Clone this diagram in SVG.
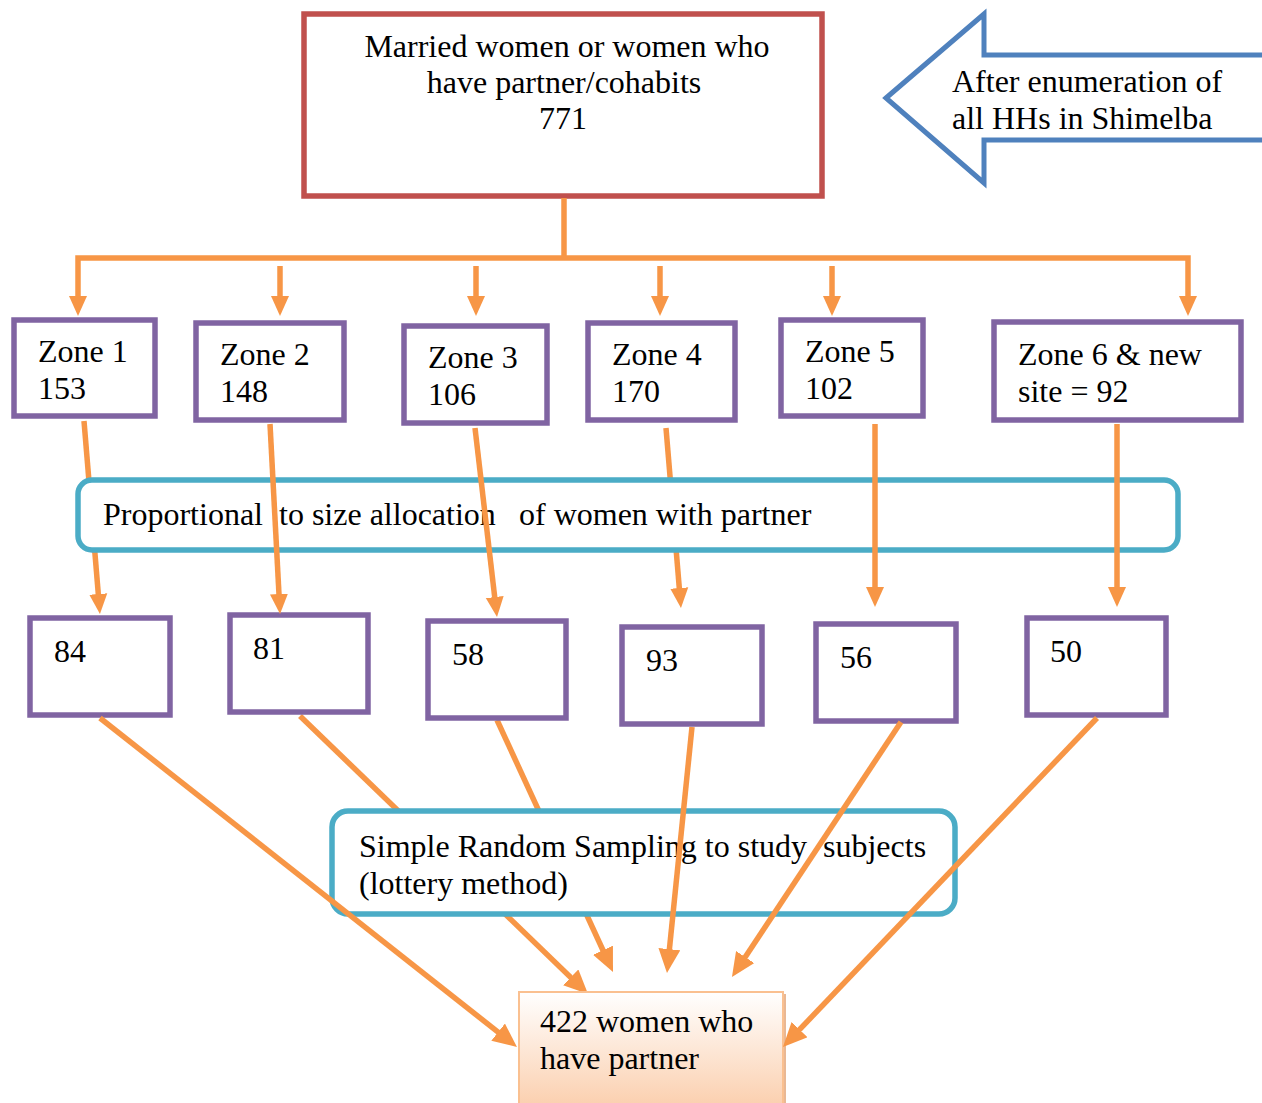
<svg xmlns="http://www.w3.org/2000/svg" width="1262" height="1103" viewBox="0 0 1262 1103">
<style>
text{font-family:"Liberation Serif","Times New Roman",serif;font-size:32px;fill:#000}
.con{fill:none;stroke:#F79646;stroke-width:5.5}
.zone{fill:#fff;stroke:#8064A2;stroke-width:5.5}
.band{fill:#fff;stroke:#4BACC6;stroke-width:5.5}
</style>
<defs>
<marker id="ah" markerUnits="userSpaceOnUse" markerWidth="20" markerHeight="20" viewBox="0 0 20 20" refX="6" refY="10" orient="auto-start-reverse">
<path d="M0,1 L20,10 L0,19 z" fill="#F79646"/>
</marker>
<marker id="ahb" markerUnits="userSpaceOnUse" markerWidth="24" markerHeight="22" viewBox="0 0 24 22" refX="8" refY="11" orient="auto">
<path d="M0,0 L24,11 L0,22 z" fill="#F79646"/>
</marker>
<linearGradient id="peach" x1="0" y1="0" x2="0" y2="1">
<stop offset="0" stop-color="#FFFFFF"/>
<stop offset="1" stop-color="#FBCFAE"/>
</linearGradient>
</defs>
<rect width="1262" height="1103" fill="#fff"/>

<g id="connectors-back">
<path class="con" d="M84,421 L98.8,600" marker-end="url(#ah)"/>
<path class="con" d="M666,428 L679.8,594" marker-end="url(#ah)"/>
<path class="con" d="M300,716 L576.5,982.9" marker-end="url(#ahb)"/>
<path class="con" d="M497,720 L606.3,957.5" marker-end="url(#ahb)"/>
</g>

<g id="n-total">
<rect x="304" y="14" width="518" height="182" fill="#fff" stroke="#C0504D" stroke-width="5.5"/>
<text x="567" y="57" text-anchor="middle">Married women or women who</text>
<text x="564" y="93" text-anchor="middle">have partner/cohabits</text>
<text x="563" y="129" text-anchor="middle">771</text>
</g>

<g id="n-enumeration">
<path d="M886,98 L984,14 L984,55 L1266,55 L1266,140 L984,140 L984,183 Z" fill="#fff" stroke="#4F81BD" stroke-width="5" stroke-linejoin="miter"/>
<text x="952" y="92">After enumeration of</text>
<text x="952" y="129">all HHs in Shimelba</text>
</g>

<g id="n-zone1"><rect class="zone" x="14" y="320" width="141" height="96"/><text x="38" y="362">Zone 1</text><text x="38" y="399">153</text></g>
<g id="n-zone2"><rect class="zone" x="196" y="323" width="148" height="97"/><text x="220" y="365">Zone 2</text><text x="220" y="402">148</text></g>
<g id="n-zone3"><rect class="zone" x="404" y="326" width="143" height="97"/><text x="428" y="368">Zone 3</text><text x="428" y="405">106</text></g>
<g id="n-zone4"><rect class="zone" x="588" y="323" width="147" height="97"/><text x="612" y="365">Zone 4</text><text x="612" y="402">170</text></g>
<g id="n-zone5"><rect class="zone" x="781" y="320" width="142" height="96"/><text x="805" y="362">Zone 5</text><text x="805" y="399">102</text></g>
<g id="n-zone6"><rect class="zone" x="994" y="322" width="247" height="98"/><text x="1018" y="365">Zone 6 &amp; new</text><text x="1018" y="402">site = 92</text></g>

<g id="n-proportional">
<rect class="band" x="78" y="480" width="1100" height="70" rx="14"/>
<text y="525"><tspan x="103">Proportional</tspan><tspan x="279">to size allocation</tspan><tspan x="519">of women with partner</tspan></text>
</g>

<g id="n-s84"><rect class="zone" x="30" y="618" width="140" height="97"/><text x="54" y="662">84</text></g>
<g id="n-s81"><rect class="zone" x="230" y="615" width="138" height="97"/><text x="253" y="659">81</text></g>
<g id="n-s58"><rect class="zone" x="428" y="621" width="138" height="97"/><text x="452" y="665">58</text></g>
<g id="n-s93"><rect class="zone" x="622" y="627" width="140" height="97"/><text x="646" y="671">93</text></g>
<g id="n-s56"><rect class="zone" x="816" y="624" width="140" height="97"/><text x="840" y="668">56</text></g>
<g id="n-s50"><rect class="zone" x="1027" y="618" width="139" height="97"/><text x="1050" y="662">50</text></g>

<g id="n-srs">
<rect class="band" x="332" y="811" width="623" height="103" rx="16"/>
<text y="857"><tspan x="359">Simple Random Sampling to study</tspan><tspan x="823">subjects</tspan></text>
<text x="359" y="894">(lottery method)</text>
</g>

<g id="n-final">
<rect x="522" y="994" width="264" height="115" fill="#E9B894"/>
<rect x="519" y="992" width="264" height="115" fill="url(#peach)" stroke="#FAC090" stroke-width="2"/>
<text x="540" y="1032">422 women who</text>
<text x="540" y="1069">have partner</text>
</g>

<g id="connectors">
<path class="con" d="M564,198 V258"/>
<path class="con" d="M78,302 V258 H1188 V302" marker-start="url(#ah)" marker-end="url(#ah)"/>
<path class="con" d="M280,266 V302" marker-end="url(#ah)"/>
<path class="con" d="M476,266 V302" marker-end="url(#ah)"/>
<path class="con" d="M660,266 V302" marker-end="url(#ah)"/>
<path class="con" d="M832,266 V302" marker-end="url(#ah)"/>
<path class="con" d="M270,424 L279.3,600" marker-end="url(#ah)"/>
<path class="con" d="M475,428 L495.4,603" marker-end="url(#ah)"/>
<path class="con" d="M875,424 V593" marker-end="url(#ah)"/>
<path class="con" d="M1117,424 V593" marker-end="url(#ah)"/>
<path class="con" d="M100,718 L504.4,1037.1" marker-end="url(#ahb)"/>
<path class="con" d="M692,727 L668.6,957.1" marker-end="url(#ahb)"/>
<path class="con" d="M901,722 L740.8,963.7" marker-end="url(#ahb)"/>
<path class="con" d="M1097,718 L794,1035.4" marker-end="url(#ahb)"/>
</g>
</svg>
